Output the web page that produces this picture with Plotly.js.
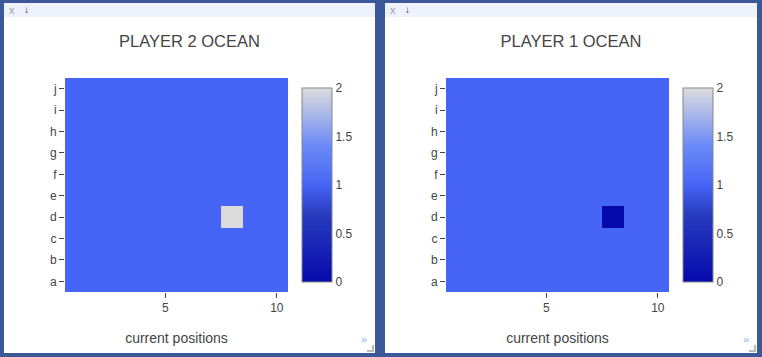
<!DOCTYPE html>
<html>
<head>
<meta charset="utf-8">
<script src="https://cdn.plot.ly/plotly-3.0.1.min.js"></script>
<style>
  html, body { margin: 0; padding: 0; width: 762px; height: 357px; background: #3b5998; overflow: hidden; font-family: "Liberation Sans", Arial, sans-serif; }
  .panel { position: absolute; top: 3px; height: 350px; background: #ffffff; }
  .bar { position: absolute; left: 0; top: 0; right: 0; height: 14px; background: #eef2fd; font-size: 11px; line-height: 14px; }
  .bar .x { position: absolute; left: 5px; top: 0; color: #a0a0b0; }
  .bar .dl { position: absolute; left: 20px; top: 0; color: #333; font-size: 10px; font-weight: bold; }
  .plot { position: absolute; left: 0; top: 14px; }
  .more { position: absolute; right: 8px; bottom: 8px; color: #8ab0ee; font-size: 11px; }
  .grip { position: absolute; right: 1px; bottom: 1px; width: 5px; height: 5px; border-right: 2px solid #bbb; border-bottom: 2px solid #bbb; }
</style>
</head>
<body>
<div class="panel" id="p1" style="left:4px; width:371px;">
  <div class="bar"><span class="x">x</span><span class="dl">↓</span></div>
  <div class="plot" id="chart1" style="width:371px; height:336px;"></div>
  <div class="more">»</div><div class="grip"></div>
</div>
<div class="panel" id="p2" style="left:385px; width:372px;">
  <div class="bar"><span class="x">x</span><span class="dl">↓</span></div>
  <div class="plot" id="chart2" style="width:372px; height:336px;"></div>
  <div class="more">»</div><div class="grip"></div>
</div>
<script>
// Data
const columns = [1, 2, 3, 4, 5, 6, 7, 8, 9, 10];
const rows = ["a", "b", "c", "d", "e", "f", "g", "h", "i", "j"];
// each grid: list of rows a..j, values for columns 1..10
const player2Ocean = [
  [1, 1, 1, 1, 1, 1, 1, 1, 1, 1],
  [1, 1, 1, 1, 1, 1, 1, 1, 1, 1],
  [1, 1, 1, 1, 1, 1, 1, 1, 1, 1],
  [1, 1, 1, 1, 1, 1, 1, 2, 1, 1],
  [1, 1, 1, 1, 1, 1, 1, 1, 1, 1],
  [1, 1, 1, 1, 1, 1, 1, 1, 1, 1],
  [1, 1, 1, 1, 1, 1, 1, 1, 1, 1],
  [1, 1, 1, 1, 1, 1, 1, 1, 1, 1],
  [1, 1, 1, 1, 1, 1, 1, 1, 1, 1],
  [1, 1, 1, 1, 1, 1, 1, 1, 1, 1]
];
const player1Ocean = [
  [1, 1, 1, 1, 1, 1, 1, 1, 1, 1],
  [1, 1, 1, 1, 1, 1, 1, 1, 1, 1],
  [1, 1, 1, 1, 1, 1, 1, 1, 1, 1],
  [1, 1, 1, 1, 1, 1, 1, 0, 1, 1],
  [1, 1, 1, 1, 1, 1, 1, 1, 1, 1],
  [1, 1, 1, 1, 1, 1, 1, 1, 1, 1],
  [1, 1, 1, 1, 1, 1, 1, 1, 1, 1],
  [1, 1, 1, 1, 1, 1, 1, 1, 1, 1],
  [1, 1, 1, 1, 1, 1, 1, 1, 1, 1],
  [1, 1, 1, 1, 1, 1, 1, 1, 1, 1]
];
const titles = ["PLAYER 2 OCEAN", "PLAYER 1 OCEAN"];
const xTitle = "current positions";

const blues = [
  [0, "rgb(5,10,172)"], [0.35, "rgb(40,60,190)"], [0.5, "rgb(70,100,245)"],
  [0.6, "rgb(90,120,245)"], [0.7, "rgb(106,137,247)"], [1, "rgb(220,220,220)"]
];

function draw(id, z, title, width) {
  const trace = {
    type: "heatmap", x: columns, y: rows, z: z,
    colorscale: blues, zmin: 0, zmax: 2, showscale: true,
    colorbar: { thickness: 30, len: 1, ypad: 10, xpad: 10, x: 1.02, outlinecolor: "#888", outlinewidth: 1,
      tickvals: [0, 0.5, 1, 1.5, 2], ticktext: ["0", "0.5", "1", "1.5", "2"], tickfont: { size: 12, color: "#444" } }
  };
  const layout = {
    width: width, height: 336,
    margin: { l: 61, r: width - 61 - 223, t: 61, b: 61 },
    paper_bgcolor: "#ffffff", plot_bgcolor: "#ffffff",
    font: { family: "Liberation Sans, Arial, sans-serif", color: "#444", size: 12 },
    title: { text: title, font: { size: 16.5, color: "#444" }, x: 0.5, xref: "container", y: 1 - 24 / 336, yref: "container", yanchor: "middle" },
    xaxis: { title: { text: xTitle, font: { size: 14, color: "#444" }, standoff: 18 }, ticks: "outside", ticklen: 5, tickcolor: "#444",
      range: [0.5, 10.5], tickvals: [5, 10], showgrid: false, zeroline: false, showline: false },
    yaxis: { type: "category", ticks: "outside", ticklen: 5, tickcolor: "#444", showgrid: false, zeroline: false, showline: false },
    showlegend: false
  };
  Plotly.newPlot(id, [trace], layout, { displayModeBar: false, staticPlot: true });
}
draw("chart1", player2Ocean, titles[0], 371);
draw("chart2", player1Ocean, titles[1], 372);
</script>
</body>
</html>
